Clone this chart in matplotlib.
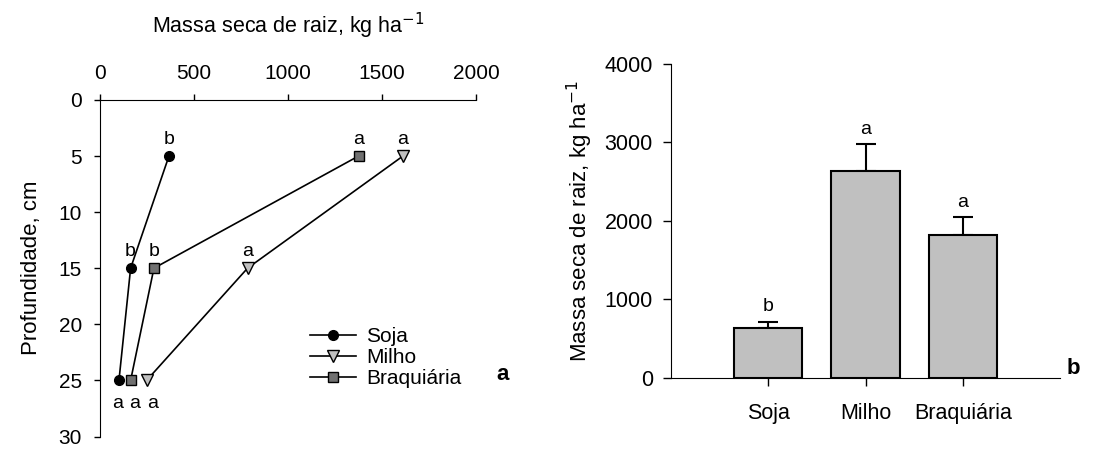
import matplotlib.pyplot as plt

plt.rcParams['font.family'] = ['Liberation Sans', 'DejaVu Sans']

# Root dry mass by depth (left panel)
depths = [5, 15, 25]
soja = [367, 163, 101]
milho = [1612, 785, 248]
braquiaria = [1376, 287, 163]
letters_soja = ['b', 'b', 'a']
letters_milho = ['a', 'a', 'a']
letters_braq = ['a', 'b', 'a']

# Total root dry mass (right panel)
culturas = ['Soja', 'Milho', 'Braquiária']
massa_total = [633, 2641, 1822]
erro_total = [84, 336, 225]
letras_total = ['b', 'a', 'a']

fig = plt.figure(figsize=(11.17, 4.5), dpi=100)

# ---- panel a ----
ax1 = fig.add_axes([0.0895, 0.03, 0.3366, 0.748])
ax1.plot(soja, depths, '-o', color='black', mfc='black', mec='black', ms=7, lw=1.2, label='Soja')
ax1.plot(milho, depths, '-v', color='black', mfc='#c0c0c0', mec='black', ms=9, lw=1.2, label='Milho')
ax1.plot(braquiaria, depths, '-s', color='black', mfc='#707070', mec='black', ms=7, lw=1.2, label='Braquiária')
ax1.set_xlim(0, 2000)
ax1.set_ylim(30, 0)
ax1.xaxis.tick_top()
ax1.xaxis.set_label_position('top')
ax1.set_xticks([0, 500, 1000, 1500, 2000])
ax1.set_yticks([0, 5, 10, 15, 20, 25, 30])
ax1.spines['right'].set_visible(False)
ax1.spines['bottom'].set_visible(False)
ax1.tick_params(direction='out', labelsize=15, length=4, width=1)
ax1.tick_params(axis='x', pad=8)
ax1.tick_params(axis='y', pad=9)
ax1.set_xlabel('Massa seca de raiz, kg ha$^{-1}$', fontsize=15.5, labelpad=22)
ax1.set_ylabel('Profundidade, cm', fontsize=16, labelpad=12)

# letters above the points at 5 and 15 cm
for xs, ls in [(soja, letters_soja), (milho, letters_milho), (braquiaria, letters_braq)]:
    for x, d, l in zip(xs[:2], depths[:2], ls[:2]):
        ax1.text(x, d - 1.05, l, ha='center', va='baseline', fontsize=14)
# letters below the 25 cm points
for x, l in zip([96, 186, 282], [letters_soja[2], letters_braq[2], letters_milho[2]]):
    ax1.text(x, 27.1, l, ha='center', va='center', fontsize=14)

ax1.legend(loc='lower right', bbox_to_anchor=(1.0, 0.1), frameon=False, fontsize=15,
           handlelength=2.2, handletextpad=0.5, labelspacing=0.1, borderpad=0.2)
ax1.text(1.072, 0.185, 'a', transform=ax1.transAxes, fontsize=16, fontweight='bold',
         ha='center', va='center')

# ---- panel b ----
ax2 = fig.add_axes([0.6007, 0.16, 0.3483, 0.698])
pos = range(len(culturas))
ax2.bar(pos, massa_total, width=0.7, color='#c0c0c0', edgecolor='black', linewidth=1.5, zorder=2)
ax2.errorbar(pos, massa_total, yerr=[[0] * 3, erro_total], fmt='none', ecolor='black',
             elinewidth=1.5, capsize=7, capthick=1.5, zorder=1)
for p, v, e, l in zip(pos, massa_total, erro_total, letras_total):
    ax2.text(p, v + e + 80, l, ha='center', va='bottom', fontsize=14)
ax2.set_xlim(-1, 3)
ax2.set_ylim(0, 4000)
ax2.set_xticks(list(pos))
ax2.set_xticklabels(culturas)
ax2.set_yticks([0, 1000, 2000, 3000, 4000])
ax2.spines['right'].set_visible(False)
ax2.spines['top'].set_visible(False)
ax2.tick_params(direction='out', labelsize=15.5, length=6, width=1)
ax2.tick_params(axis='x', pad=12)
ax2.tick_params(axis='y', pad=7)
ax2.set_ylabel('Massa seca de raiz, kg ha$^{-1}$', fontsize=16, labelpad=7)
ax2.text(1.035, 0.03, 'b', transform=ax2.transAxes, fontsize=16, fontweight='bold',
         ha='center', va='center')

fig.savefig('out.png', dpi=100)
